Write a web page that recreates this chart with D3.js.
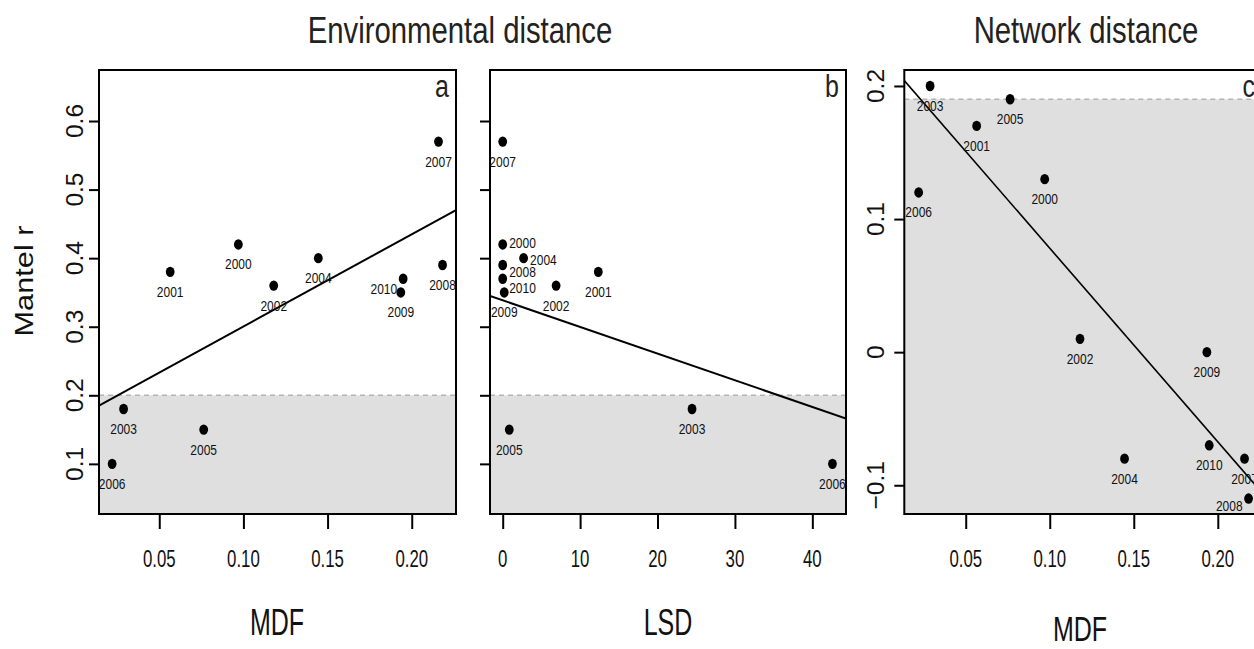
<!DOCTYPE html>
<html>
<head>
<meta charset="utf-8">
<script src="https://cdn.jsdelivr.net/npm/d3@7"></script>
<style>
  html, body { margin: 0; padding: 0; background: #fff; }
  svg { display: block; font-family: "Liberation Sans", Arial, Helvetica, sans-serif; }
</style>
</head>
<body>
<svg id="chart" width="1254" height="649"></svg>
<script>
// Mantel correlations per year against MDF, LSD and network distance
const years      = [2000, 2001, 2002, 2003, 2004, 2005, 2006, 2007, 2008, 2009, 2010];
const mdf        = [0.097, 0.0565, 0.118, 0.0288, 0.1445, 0.0764, 0.022, 0.2159, 0.2183, 0.1935, 0.1949];
const lsd        = [0, 12.35, 6.9, 24.46, 2.7, 0.85, 42.6, 0, 0, 0.2, 0];
const envMantel  = [0.42, 0.38, 0.36, 0.18, 0.40, 0.15, 0.10, 0.57, 0.39, 0.35, 0.37];
const netMantel  = [0.13, 0.17, 0.01, 0.20, -0.08, 0.19, 0.12, -0.08, -0.11, 0.00, -0.07];

// fitted trend lines (panels a, b, c)
const fitIntercepts = [0.166, 0.3386, 0.2236];
const fitSlopes     = [1.344, -0.00389, -1.455];

// significance thresholds (shaded below)
const envThreshold = 0.2;
const netThreshold = 0.19;

// tick labels
const mdfTicks    = [0.05, 0.10, 0.15, 0.20];
const lsdTicks    = [0, 10, 20, 30, 40];
const envTicks    = [0.1, 0.2, 0.3, 0.4, 0.5, 0.6];
const netTicks    = [-0.1, 0, 0.1, 0.2];

const svg = d3.select("#chart");
const FILL = "#dfdfdf";

// text with separate horizontal / vertical stretch
function label(g, str, x, y, o) {
  return g.append("text")
    .attr("transform", `translate(${x},${y})` + (o.rotate ? ` rotate(${o.rotate})` : "") +
          ` scale(${o.sx || 1},${o.sy || 1})`)
    .attr("text-anchor", o.anchor || "middle")
    .attr("font-size", o.size)
    .attr("fill", o.fill || "#111")
    .text(str);
}

function fmtY(v) {
  if (v === 0) return "0";
  return (v < 0 ? "\u2212" : "") + Math.abs(v).toString();
}

function panel(cfg) {
  const { id, x, y, xs, ys, fit, xTicks, xFmt, yTicks, yLabels, threshold, letter, sides, lineWidth } = cfg;
  const [x0, x1] = x.range();
  const [y1, y0] = y.range(); // y1 bottom, y0 top
  const g = svg.append("g");

  const clipId = "clip-" + id;
  svg.append("clipPath").attr("id", clipId)
    .append("rect").attr("x", x0).attr("y", y0).attr("width", x1 - x0).attr("height", y1 - y0);

  const inner = g.append("g").attr("clip-path", `url(#${clipId})`);

  // shaded non-significant band
  inner.append("rect")
    .attr("x", x0).attr("width", x1 - x0)
    .attr("y", y(threshold)).attr("height", y1 - y(threshold))
    .attr("fill", FILL);
  inner.append("line")
    .attr("x1", x0).attr("x2", x1)
    .attr("y1", y(threshold)).attr("y2", y(threshold))
    .attr("stroke", "#b4b4b4").attr("stroke-width", 1.5).attr("stroke-dasharray", "5,4");

  // trend line across the full panel
  const dx = x.domain();
  inner.append("line")
    .attr("x1", x(dx[0])).attr("y1", y(fit.intercept + fit.slope * dx[0]))
    .attr("x2", x(dx[1])).attr("y2", y(fit.intercept + fit.slope * dx[1]))
    .attr("stroke", "#000").attr("stroke-width", lineWidth);

  // points
  inner.selectAll("ellipse").data(years).join("ellipse")
    .attr("cx", (d, i) => x(xs[i]))
    .attr("cy", (d, i) => y(ys[i]))
    .attr("rx", 4.4).attr("ry", 5.2)
    .attr("fill", "#000");

  // year labels
  years.forEach((yr, i) => {
    const px = x(xs[i]), py = y(ys[i]);
    const s = sides[yr] || ["below", 0];
    const o = { size: 12, sy: 1.24, fill: "#111" };
    if (s[0] === "below") {
      label(inner, yr, px, py + 25 + s[1], o);
    } else if (s[0] === "right") {
      label(inner, yr, px + 6.5, py + 5 + s[1], Object.assign(o, { anchor: "start" }));
    } else {
      label(inner, yr, px - 6, py + 5 + s[1], Object.assign(o, { anchor: "end" }));
    }
  });

  // axes
  const xAxis = d3.axisBottom(x).tickValues(xTicks).tickSize(15).tickFormat("");
  const ax = g.append("g").attr("transform", `translate(0,${y1})`).call(xAxis);
  ax.select(".domain").remove();
  ax.selectAll("line").attr("stroke", "#000").attr("stroke-width", 2);
  xTicks.forEach(v => label(g, xFmt(v), x(v), 567, { size: 16.8, sy: 1.39 }));

  const yAxis = d3.axisLeft(y).tickValues(yTicks).tickSize(10).tickFormat("");
  const ay = g.append("g").attr("transform", `translate(${x0},0)`).call(yAxis);
  ay.select(".domain").remove();
  ay.selectAll("line").attr("stroke", "#000").attr("stroke-width", 2);
  if (yLabels) {
    yTicks.forEach(v => label(g, fmtY(v), yLabels, y(v), { size: 24.5, rotate: -90, sx: 1.0 }));
  }

  // frame
  g.append("rect")
    .attr("x", x0).attr("y", y0).attr("width", x1 - x0).attr("height", y1 - y0)
    .attr("fill", "none").attr("stroke", "#000").attr("stroke-width", 2);

  label(g, letter, x1 - 7, 97, { size: 25, sy: 1.25, anchor: "end", fill: "#222" });
}

const plotTop = 70, plotBottom = 514;

// a: environmental distance vs MDF
const xA = d3.scaleLinear().domain([0.0142, 0.2263]).range([99, 456]);
const yEnv = d3.scaleLinear().domain([0.0269, 0.6744]).range([plotBottom, plotTop]);
panel({
  id: "a", x: xA, y: yEnv, xs: mdf, ys: envMantel,
  fit: { intercept: fitIntercepts[0], slope: fitSlopes[0] },
  xTicks: mdfTicks, xFmt: d3.format(".2f"), yTicks: envTicks, yLabels: 83,
  threshold: envThreshold, letter: "a", lineWidth: 2,
  sides: { 2010: ["left", 10] }
});

// b: environmental distance vs LSD
const xB = d3.scaleLinear().domain([-1.641, 44.35]).range([490, 846]);
panel({
  id: "b", x: xB, y: yEnv, xs: lsd, ys: envMantel,
  fit: { intercept: fitIntercepts[1], slope: fitSlopes[1] },
  xTicks: lsdTicks, xFmt: d3.format("d"), yTicks: envTicks, yLabels: null,
  threshold: envThreshold, letter: "b", lineWidth: 2,
  sides: { 2000: ["right", -1], 2004: ["right", 2], 2008: ["right", 7], 2010: ["right", 9] }
});

// c: network distance vs MDF
const xC = d3.scaleLinear().domain([0.01345, 0.2263]).range([904.3, 1262]);
const yNet = d3.scaleLinear().domain([-0.1216, 0.212]).range([plotBottom, plotTop]);
panel({
  id: "c", x: xC, y: yNet, xs: mdf, ys: netMantel,
  fit: { intercept: fitIntercepts[2], slope: fitSlopes[2] },
  xTicks: mdfTicks, xFmt: d3.format(".2f"), yTicks: netTicks, yLabels: 884,
  threshold: netThreshold, letter: "c", lineWidth: 1.6,
  sides: { 2008: ["left", 7] }
});

// titles and axis names
label(svg, "Environmental distance", 460, 43, { size: 29.3, sy: 1.28, fill: "#222" });
label(svg, "Network distance", 1086, 43, { size: 29.3, sy: 1.28, fill: "#222" });
label(svg, "MDF", 277, 635, { size: 25, sy: 1.45, fill: "#111" });
label(svg, "LSD", 668, 635, { size: 25, sy: 1.45, fill: "#111" });
label(svg, "MDF", 1080, 641, { size: 25, sy: 1.4, fill: "#111" });
label(svg, "Mantel r", 33, 281, { size: 25.6, rotate: -90, sx: 1.2, fill: "#111" });
</script>
</body>
</html>
